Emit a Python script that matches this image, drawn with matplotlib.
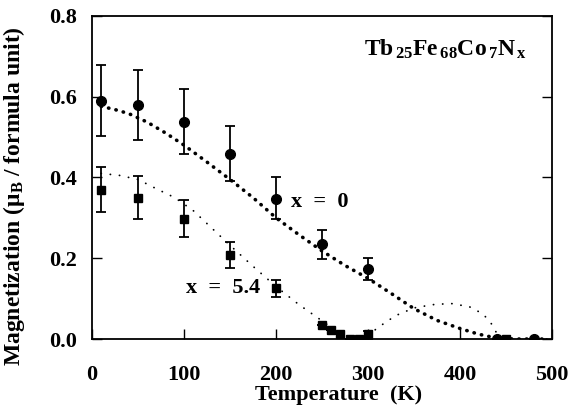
import matplotlib
matplotlib.use("Agg")
import matplotlib.pyplot as plt

plt.rcParams['font.family'] = ['Liberation Serif', 'DejaVu Serif']
plt.rcParams['font.weight'] = 'bold'
plt.rcParams['mathtext.fontset'] = 'custom'
plt.rcParams['mathtext.rm'] = 'Liberation Serif:bold'
plt.rcParams['mathtext.bf'] = 'Liberation Serif:bold'
plt.rcParams['mathtext.it'] = 'Liberation Serif:bold'

# x = 0 data (circles)
t_x0 = [10, 50, 100, 150, 200, 250, 300, 440, 480]
m_x0 = [0.59, 0.58, 0.537, 0.458, 0.346, 0.234, 0.174, 0.0, 0.0]
lo_x0 = [0.503, 0.492, 0.459, 0.391, 0.298, 0.199, 0.147, 0.0, 0.0]
hi_x0 = [0.679, 0.667, 0.620, 0.527, 0.401, 0.271, 0.200, 0.0, 0.0]

# x = 5.4 data (squares)
t_x54 = [10, 50, 100, 150, 200, 250, 260, 270, 280, 290, 300, 450]
m_x54 = [0.370, 0.348, 0.298, 0.207, 0.127, 0.034, 0.023, 0.013, 0.0, 0.0, 0.013, 0.0]
lo_x54 = [0.314, 0.296, 0.253, 0.176, 0.104, 0.034, 0.023, 0.013, 0.0, 0.0, 0.0, 0.0]
hi_x54 = [0.426, 0.403, 0.344, 0.241, 0.147, 0.034, 0.023, 0.013, 0.0, 0.0, 0.02, 0.0]

# dotted guide curves
fit_t_x0 = [10, 25, 40, 60, 80, 100, 125, 150, 175, 200, 225, 250, 275,
            300, 325, 350, 375, 400, 420, 440, 460, 490]
fit_m_x0 = [0.576, 0.568, 0.558, 0.537, 0.510, 0.480, 0.438, 0.395, 0.350,
            0.300, 0.258, 0.218, 0.182, 0.150, 0.113, 0.075, 0.046, 0.026,
            0.012, 0.002, 0.0, 0.0]
fit_t_x54 = [10, 30, 50, 70, 90, 110, 130, 150, 175, 200, 225, 250, 265,
             280, 290, 300, 315, 330, 350, 370, 390, 410, 425, 435, 443, 470, 500]
fit_m_x54 = [0.41, 0.405, 0.395, 0.372, 0.35, 0.318, 0.275, 0.232, 0.18,
             0.13, 0.085, 0.045, 0.02, 0.003, 0.0, 0.01, 0.035, 0.058, 0.077,
             0.085, 0.088, 0.08, 0.062, 0.035, 0.0, 0.0, 0.0]


def err(m, lo, hi):
    return [[a - b for a, b in zip(m, lo)], [c - a for a, c in zip(m, hi)]]


fig = plt.figure(figsize=(5.71, 4.17), dpi=100)
ax = fig.add_axes([0.161, 0.187, 0.806, 0.775])

ax.plot(fit_t_x0, fit_m_x0, color='black', lw=2.6, linestyle=(0, (0.1, 2.0)),
        dash_capstyle='round')
ax.plot(fit_t_x54, fit_m_x54, color='black', lw=1.3, linestyle=(0, (0.1, 5.0)),
        dash_capstyle='round')

ax.errorbar(t_x0, m_x0, yerr=err(m_x0, lo_x0, hi_x0), fmt='o', color='black',
            ms=7, capsize=3.5, elinewidth=1.3, capthick=1.3)
ax.errorbar(t_x54, m_x54, yerr=err(m_x54, lo_x54, hi_x54), fmt='s', color='black',
            ms=6, capsize=3.5, elinewidth=1.3, capthick=1.3)

ax.text(216, 0.339, 'x  =  0', fontsize=16, fontweight='bold', va='center')
ax.text(102, 0.127, 'x  =  5.4', fontsize=16, fontweight='bold', va='center')
ax.text(0.946, 0.895, r'Tb$_{\,25}$Fe$_{\,68}$Co$_{\,7}$N$_{\,\mathrm{x}}$',
        transform=ax.transAxes, fontsize=17, fontweight='bold', ha='right',
        va='center')

ax.set_xlim(0, 500)
ax.set_ylim(0, 0.8)
ax.set_xticks([0, 100, 200, 300, 400, 500])
ax.set_yticks([0.0, 0.2, 0.4, 0.6, 0.8])
ax.set_yticklabels(['0.0', '0.2', '0.4', '0.6', '0.8'])
ax.tick_params(direction='in', length=7, width=1, labelsize=16, right=True,
               top=False)
ax.tick_params(axis='x', pad=19)
ax.tick_params(axis='y', pad=11)
for s in ax.spines.values():
    s.set_linewidth(1.3)

ax.set_xlabel('Temperature  (K)', fontsize=16, fontweight='bold')
ax.xaxis.set_label_coords(0.536, -0.142)
ax.set_ylabel(r'Magnetization (μ$_{\mathrm{B}}$ / formula unit)', fontsize=17,
              fontweight='bold')
ax.yaxis.set_label_coords(-0.142, 0.441)

fig.savefig('out.png', dpi=100)
